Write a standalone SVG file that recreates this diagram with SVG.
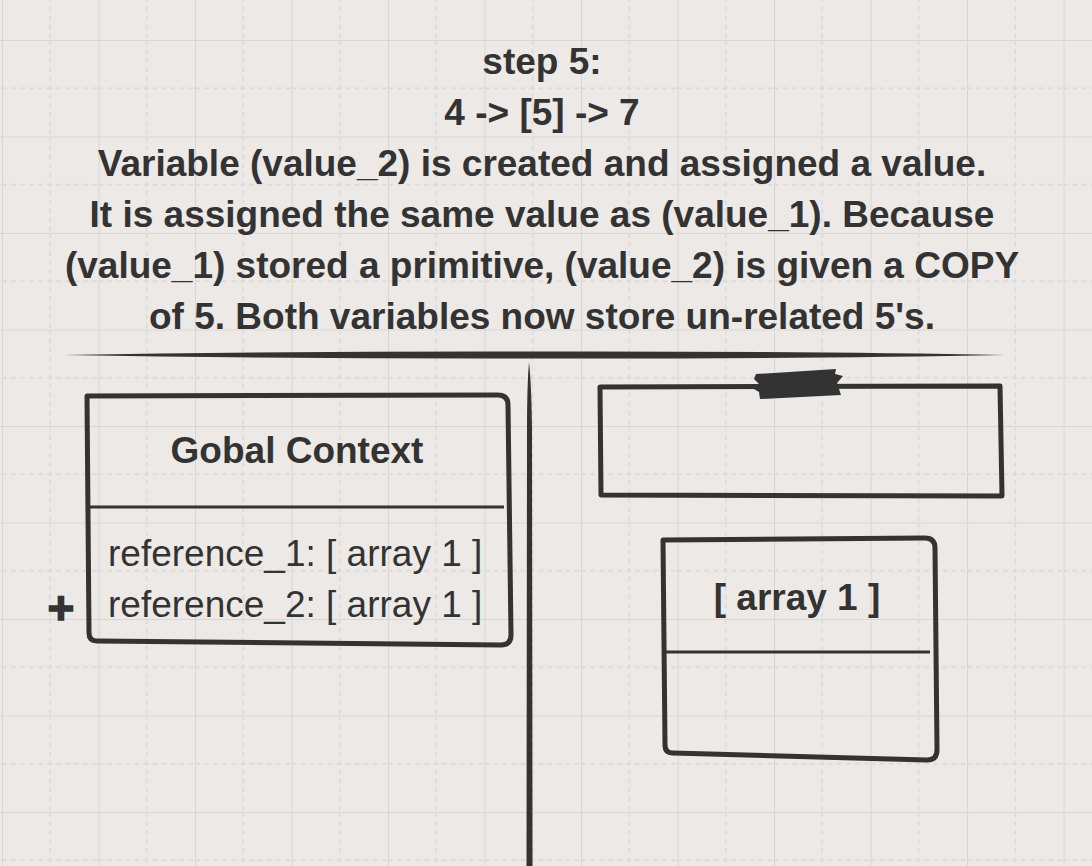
<svg xmlns="http://www.w3.org/2000/svg" width="1092" height="866" viewBox="0 0 1092 866">
<defs>
<pattern id="grid" patternUnits="userSpaceOnUse" x="2" y="40" width="96.5" height="96.5">
<line x1="48.25" y1="0" x2="48.25" y2="96.5" stroke="#d9d7d4" stroke-width="1.3" stroke-dasharray="5 4"/>
<line x1="0" y1="48.25" x2="96.5" y2="48.25" stroke="#d9d7d4" stroke-width="1.3" stroke-dasharray="5 4"/>
<line x1="0.5" y1="0" x2="0.5" y2="96.5" stroke="#d9d7d4" stroke-width="1.2"/>
<line x1="0" y1="0.5" x2="96.5" y2="0.5" stroke="#d9d7d4" stroke-width="1.2"/>
</pattern>
<style>
.t{font-family:"Liberation Sans",Arial,sans-serif;fill:#333333;}
.b{font-weight:bold;}
.h{font-size:37px;text-anchor:middle;font-weight:bold;}
.box{fill:none;stroke:#333333;stroke-width:5;stroke-linejoin:round;stroke-linecap:round;}
.div{fill:none;stroke:#333333;stroke-width:3;}
.ink{fill:#333333;}
</style>
</defs>
<rect width="1092" height="866" fill="#ece9e6"/>
<rect width="1092" height="866" fill="url(#grid)"/>

<g id="title">
<text class="t h" x="542" y="74">step 5:</text>
<text class="t h" x="542" y="125">4 -&gt; [5] -&gt; 7</text>
<text class="t h" x="542" y="176">Variable (value_2) is created and assigned a value.</text>
<text class="t h" x="542" y="227">It is assigned the same value as (value_1). Because</text>
<text class="t h" x="542" y="278">(value_1) stored a primitive, (value_2) is given a COPY</text>
<text class="t h" x="542" y="329">of 5. Both variables now store un-related 5's.</text>
</g>

<g id="dividers">
<path class="ink" d="M64,355 Q300,351 534,351.5 Q800,351 1005,355 Q800,359 534,358.5 Q300,359 64,355 Z"/>
<path class="ink" d="M529,362 Q531.5,385 532,430 L532.5,866 L526.5,866 L527,430 Q527,385 529,362 Z"/>
</g>

<g id="global-context">
<path class="box" d="M87,396 L498,395 Q508,395 508,405 L511,635 Q511,645 501,645 L97,641 Q89,641 89,633 Z"/>
<line class="div" x1="88" y1="507" x2="504" y2="507"/>
<text class="t h" x="297" y="463">Gobal Context</text>
<text class="t" x="108" y="566" font-size="37">reference_1: [ array 1 ]</text>
<text class="t" x="108" y="617" font-size="37">reference_2: [ array 1 ]</text>
</g>

<g id="plus">
<text class="t b" x="61" y="624" font-size="46" text-anchor="middle" stroke="#333333" stroke-width="1.5">+</text>
</g>

<g id="stack-box">
<path class="box" d="M600,387 L1000,386 L1002,496 L601,495 Z"/>
<path class="ink" d="M756,374 L836,369 L835,374 L843,376 L837,383 L841,395 L760,399 L759,392 L754,389 L760,385 L754,379 Z"/>
</g>

<g id="array-1">
<path class="box" d="M663,540 L925,538 Q935,538 935,548 L937,750 Q937,760 927,760 L673,753 Q665,753 665,745 Z"/>
<line class="div" x1="666" y1="652" x2="930" y2="652"/>
<text class="t h" x="797" y="610">[ array 1 ]</text>
</g>
</svg>
